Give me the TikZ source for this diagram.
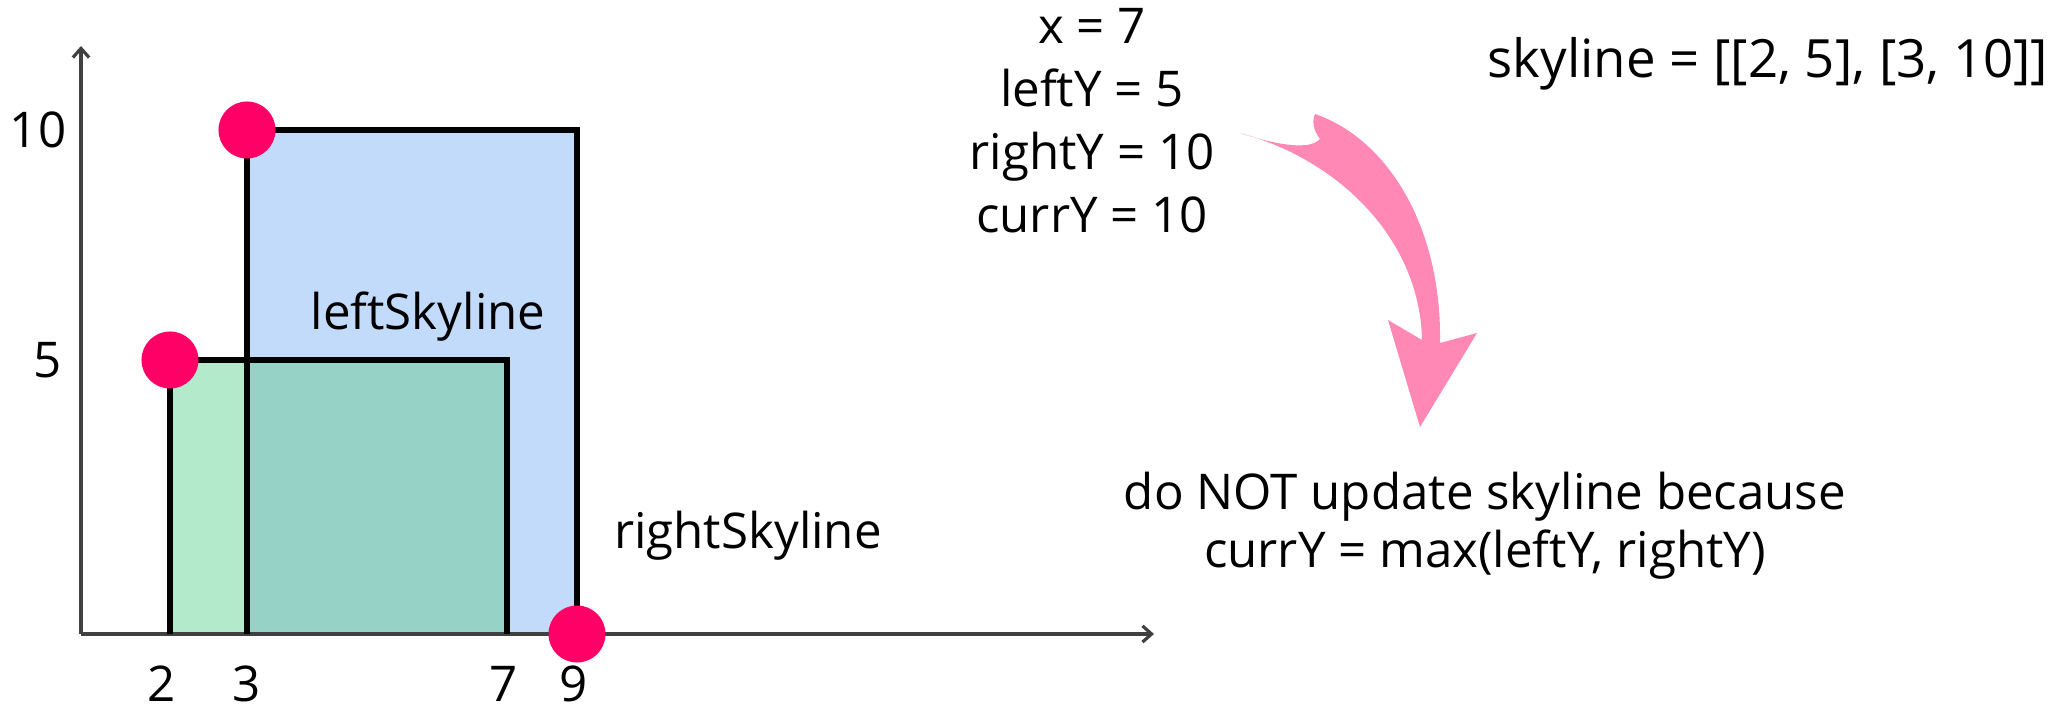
\documentclass[tikz,border=0pt]{standalone}
\usepackage{fontspec}
\setmainfont{Open Sans}
\usetikzlibrary{positioning,arrows.meta}
\definecolor{skyGreen}{RGB}{178,234,203}
\definecolor{skyBlue}{RGB}{195,219,250}
\definecolor{skyTeal}{RGB}{150,211,198}
\definecolor{dotPink}{RGB}{255,0,102}
\definecolor{arrowPink}{RGB}{255,136,181}
\definecolor{axisGray}{RGB}{64,64,64}

\begin{document}
\begin{tikzpicture}[
                  x=0.01cm,y=-0.01cm,
                  font=\fontsize{14}{17.9}\selectfont,
                  axis/.style={-{Straight Barb[length=2.6pt,width=4.6pt]},line width=0.9pt,draw=axisGray},
                  edge/.style={line width=1.6pt,line join=miter},
                  dot/.style={circle,fill=dotPink,inner sep=0pt,minimum size=0.57cm},
                  lbl/.style={inner sep=0pt,align=center}
                ]
                \useasboundingbox (0,0) rectangle (2066,715);
                \fill[skyBlue] (247,130) rectangle (577,634);
                \fill[skyGreen] (170,360) rectangle (247,634);
                \fill[skyTeal] (247,360) rectangle (507,634);

                \coordinate (o) at (81,634);
                \coordinate (xend) at (1154,634);
                \coordinate (yend) at (81,46);
                \draw[axis] (o) -- (xend);
                \draw[axis] (o) -- (yend);

                \draw[edge] (170,634) -- (170,360) -- (507,360) -- (507,634);
                \draw[edge] (247,634) -- (247,130) -- (577,130) -- (577,634);

                \node[dot] (left1) at (170,360) {};
                \node[dot] (right1) at (247,130) {};
                \node[dot] (right2) at (577,634) {};

                \node[lbl] (t2) at (162,684) {2};
                \node[lbl] (t3) at (247,684) {3};
                \node[lbl] (t7) at (504,684) {7};
                \node[lbl] (t9) at (574,684) {9};
                \node[lbl] (h10) at (38,130) {10};
                \node[lbl] (h5) at (48,360) {5};

                \node[lbl] (leftName) at (428,317) {leftSkyline};
                \node[lbl] (rightName) at (748,536) {rightSkyline};

                \node[lbl] (vars) at (1092,121) {x = 7\\leftY = 5\\rightY = 10\\currY = 10};
                \node[lbl,font=\fontsize{15}{17.9}\selectfont] (sky) at (1768,64) {skyline = [[2, 5], [3, 10]]};
                \node[lbl,font=\fontsize{14}{16.5}\selectfont] (why) at (1485,526) {do NOT update skyline because\\currY = max(leftY, rightY)};

                \fill[arrowPink] (1315,114) .. controls (1390,140) and (1442,230) .. (1440,343)
                  -- (1477,333) -- (1420,427) -- (1388,320) -- (1422,340)
                  .. controls (1420,240) and (1340,160) .. (1240,133)
                  .. controls (1280,146) and (1310,150) .. (1320,139)
                  .. controls (1313,130) and (1312,121) .. (1315,114) -- cycle;
                \end{tikzpicture}
\end{document}
